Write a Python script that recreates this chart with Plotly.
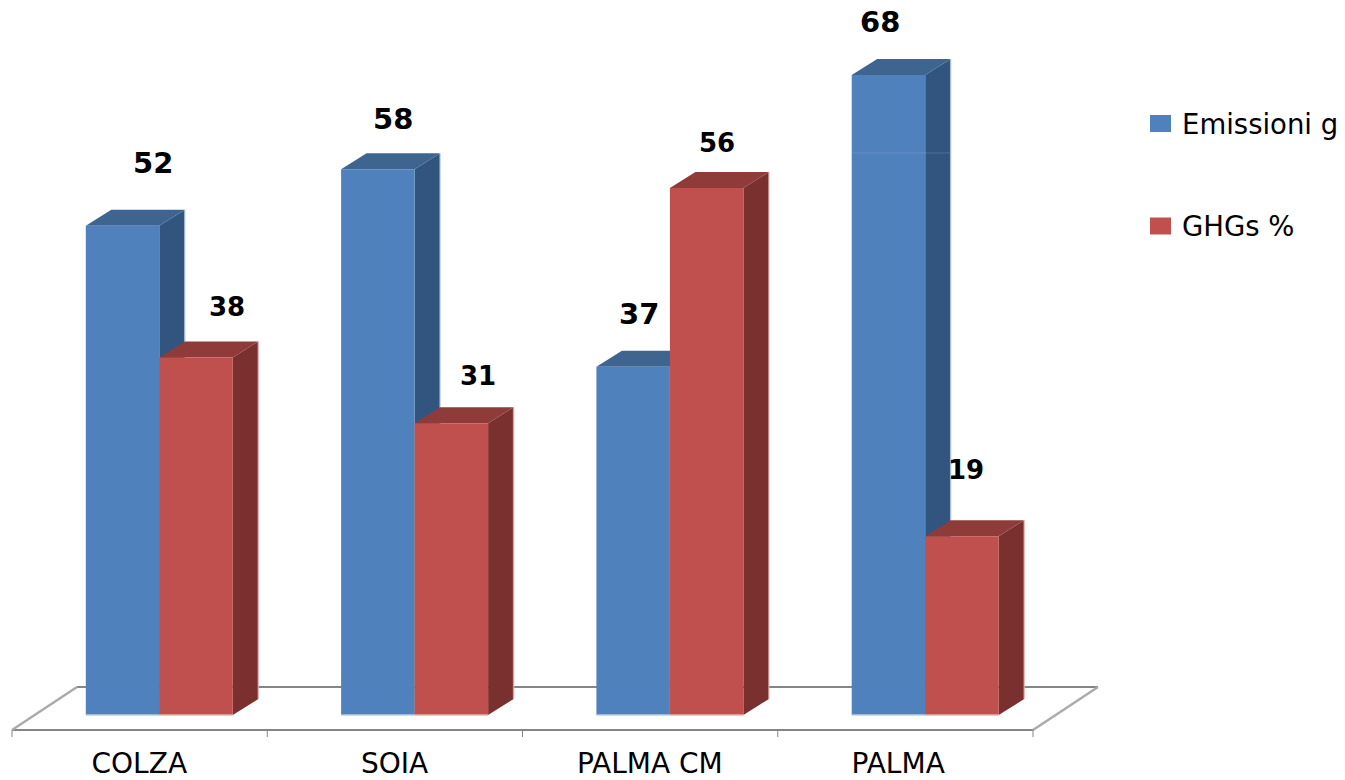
import plotly.graph_objects as go

# Data
CATEGORIES = ["COLZA", "SOIA", "PALMA CM", "PALMA"]
EMISSIONS = [52, 58, 37, 68]
GHGS = [38, 31, 56, 19]
SERIES_NAMES = ["Emissioni g", "GHGs %"]

# Page and scale set-up
WIDTH, HEIGHT = 1345, 780
MARGIN_BOTTOM = 36
PX_PER_CAT = 255.3
PX_PER_UNIT = 9.41
ORIGIN_X, ORIGIN_Y = 159.3, 715.0


def ux(px):
    return px / PX_PER_CAT


def uy(px):
    return px / PX_PER_UNIT


BAR_W = ux(73.5)
DEPTH_X, DEPTH_Y = ux(25.5), uy(16)
FLOOR_DX, FLOOR_DY = ux(65), uy(43)
FLOOR_LEFT, FLOOR_RIGHT = ux(12 - ORIGIN_X), ux(1033 - ORIGIN_X)
FLOOR_FRONT = uy(-15)
FLOOR_BACK = FLOOR_FRONT + FLOOR_DY
TICK_END = uy(-22)

BLUE = dict(front="#4F81BD", side="#32557F", top="#3D6590", edge="rgba(190,205,228,0.75)")
RED = dict(front="#C0504D", side="#7A302E", top="#8E3B39", edge="rgba(226,180,178,0.75)")
GREY = "#858585"
PALE_GREY = "#ABABAB"

# Hand-placed value labels: offset from the series bar top, in screen pixels
EMISSION_LABEL_OFFSET = [(-6, 63), (-22, 50), (-31, 53), (-45, 53)]
GHG_LABEL_OFFSET = [(68, 50), (63, 47), (47, 45), (41, 66)]
CATEGORY_LABEL_OFFSET = [-20, -20, -20, -27]

# Faint horizontal join across the tallest bar
JOIN_LEVEL = uy(562)


def polygon(points, fill, layer="below"):
    path = "M" + " L".join(f"{x:.4f},{y:.4f}" for x, y in points) + " Z"
    return dict(type="path", path=path, xref="x", yref="y", fillcolor=fill,
                line=dict(width=0), layer=layer)


def segment(x0, y0, x1, y1, color, width=2, layer="below"):
    return dict(type="line", x0=x0, y0=y0, x1=x1, y1=y1, xref="x", yref="y",
                line=dict(color=color, width=width), layer=layer)


def depth_faces(left, value, colors):
    """Side and top faces of one extruded bar, built from its value."""
    right = left + BAR_W
    return [
        polygon([(right, 0), (right + DEPTH_X, DEPTH_Y),
                 (right + DEPTH_X, value + DEPTH_Y), (right, value)], colors["side"]),
        polygon([(left, value), (left + DEPTH_X, value + DEPTH_Y),
                 (right + DEPTH_X, value + DEPTH_Y), (right, value)], colors["top"]),
        segment(right + DEPTH_X, DEPTH_Y, right + DEPTH_X, value + DEPTH_Y, colors["edge"], 1.5),
        segment(left, 0, right, 0, colors["edge"], 2, layer="above"),
    ]


shapes = []

# Floor of the 3D box
shapes.append(segment(FLOOR_LEFT + FLOOR_DX, FLOOR_BACK, FLOOR_RIGHT + FLOOR_DX, FLOOR_BACK, GREY, 2))
shapes.append(segment(FLOOR_LEFT, FLOOR_FRONT, FLOOR_RIGHT, FLOOR_FRONT, GREY, 2))
shapes.append(segment(FLOOR_LEFT, FLOOR_FRONT, FLOOR_LEFT + FLOOR_DX, FLOOR_BACK, PALE_GREY, 2.5))
shapes.append(segment(FLOOR_RIGHT, FLOOR_FRONT, FLOOR_RIGHT + FLOOR_DX, FLOOR_BACK, PALE_GREY, 2.5))
for k in range(len(CATEGORIES) + 1):
    tick = FLOOR_LEFT + k * (FLOOR_RIGHT - FLOOR_LEFT) / len(CATEGORIES)
    shapes.append(segment(tick, FLOOR_FRONT, tick, TICK_END, GREY, 1))

# Extruded faces, painted under the front faces of the bars
positions = list(range(len(CATEGORIES)))
for i, value in zip(positions, EMISSIONS):
    shapes += depth_faces(i - BAR_W, value, BLUE)
for i, value in zip(positions, GHGS):
    shapes += depth_faces(i, value, RED)

last = positions[-1]
shapes.append(segment(last - BAR_W, JOIN_LEVEL, last + DEPTH_X, JOIN_LEVEL,
                      "rgba(190,205,228,0.22)", 1, layer="above"))

fig = go.Figure()
fig.add_bar(x=positions, y=EMISSIONS, name=SERIES_NAMES[0], width=BAR_W, offset=-BAR_W,
            marker=dict(color=BLUE["front"], line=dict(width=0)))
fig.add_bar(x=positions, y=GHGS, name=SERIES_NAMES[1], width=BAR_W, offset=0,
            marker=dict(color=RED["front"], line=dict(width=0)))

# Value labels
annotations = []
for i, value, (dx, dy) in zip(positions, EMISSIONS, EMISSION_LABEL_OFFSET):
    annotations.append(dict(x=i + ux(dx), y=value + uy(dy), text=f"<b>{value}</b>", xref="x", yref="y",
                            showarrow=False, font=dict(size=29, color="black", family="DejaVu Sans")))
for i, value, (dx, dy) in zip(positions, GHGS, GHG_LABEL_OFFSET):
    annotations.append(dict(x=i + ux(dx), y=value + uy(dy), text=f"<b>{value}</b>", xref="x", yref="y",
                            showarrow=False, font=dict(size=26, color="black", family="DejaVu Sans")))

# Legend
LEGEND_ROWS = [(SERIES_NAMES[0], BLUE["front"], 123.5), (SERIES_NAMES[1], RED["front"], 226)]
for name, color, row_y in LEGEND_ROWS:
    shapes.append(dict(type="rect", xref="paper", yref="paper",
                       x0=1150 / WIDTH, x1=1171 / WIDTH,
                       y0=1 - (row_y + 8.5) / (HEIGHT - MARGIN_BOTTOM),
                       y1=1 - (row_y - 8.5) / (HEIGHT - MARGIN_BOTTOM),
                       fillcolor=color, line=dict(width=0), layer="above"))
    annotations.append(dict(x=1180 / WIDTH, y=1 - row_y / (HEIGHT - MARGIN_BOTTOM), text=name,
                            xref="paper", yref="paper", xanchor="left", yanchor="middle",
                            showarrow=False, font=dict(size=27.5, color="black", family="DejaVu Sans")))

fig.update_layout(
    width=WIDTH,
    height=HEIGHT,
    margin=dict(l=0, r=0, t=0, b=MARGIN_BOTTOM, pad=0, autoexpand=False),
    paper_bgcolor="white",
    plot_bgcolor="white",
    barmode="overlay",
    showlegend=False,
    shapes=shapes,
    annotations=annotations,
    xaxis=dict(
        automargin=False,
        range=[ux(-ORIGIN_X), ux(WIDTH - ORIGIN_X)],
        showgrid=False, zeroline=False, showline=False, ticks="",
        tickmode="array",
        tickvals=[i + ux(d) for i, d in zip(positions, CATEGORY_LABEL_OFFSET)],
        ticktext=CATEGORIES,
        ticklabelstandoff=0,
        tickfont=dict(size=28, color="black", family="DejaVu Sans"),
    ),
    yaxis=dict(
        range=[uy(ORIGIN_Y - (HEIGHT - MARGIN_BOTTOM)), uy(ORIGIN_Y)],
        visible=False,
    ),
)

fig.write_html("out.html")
